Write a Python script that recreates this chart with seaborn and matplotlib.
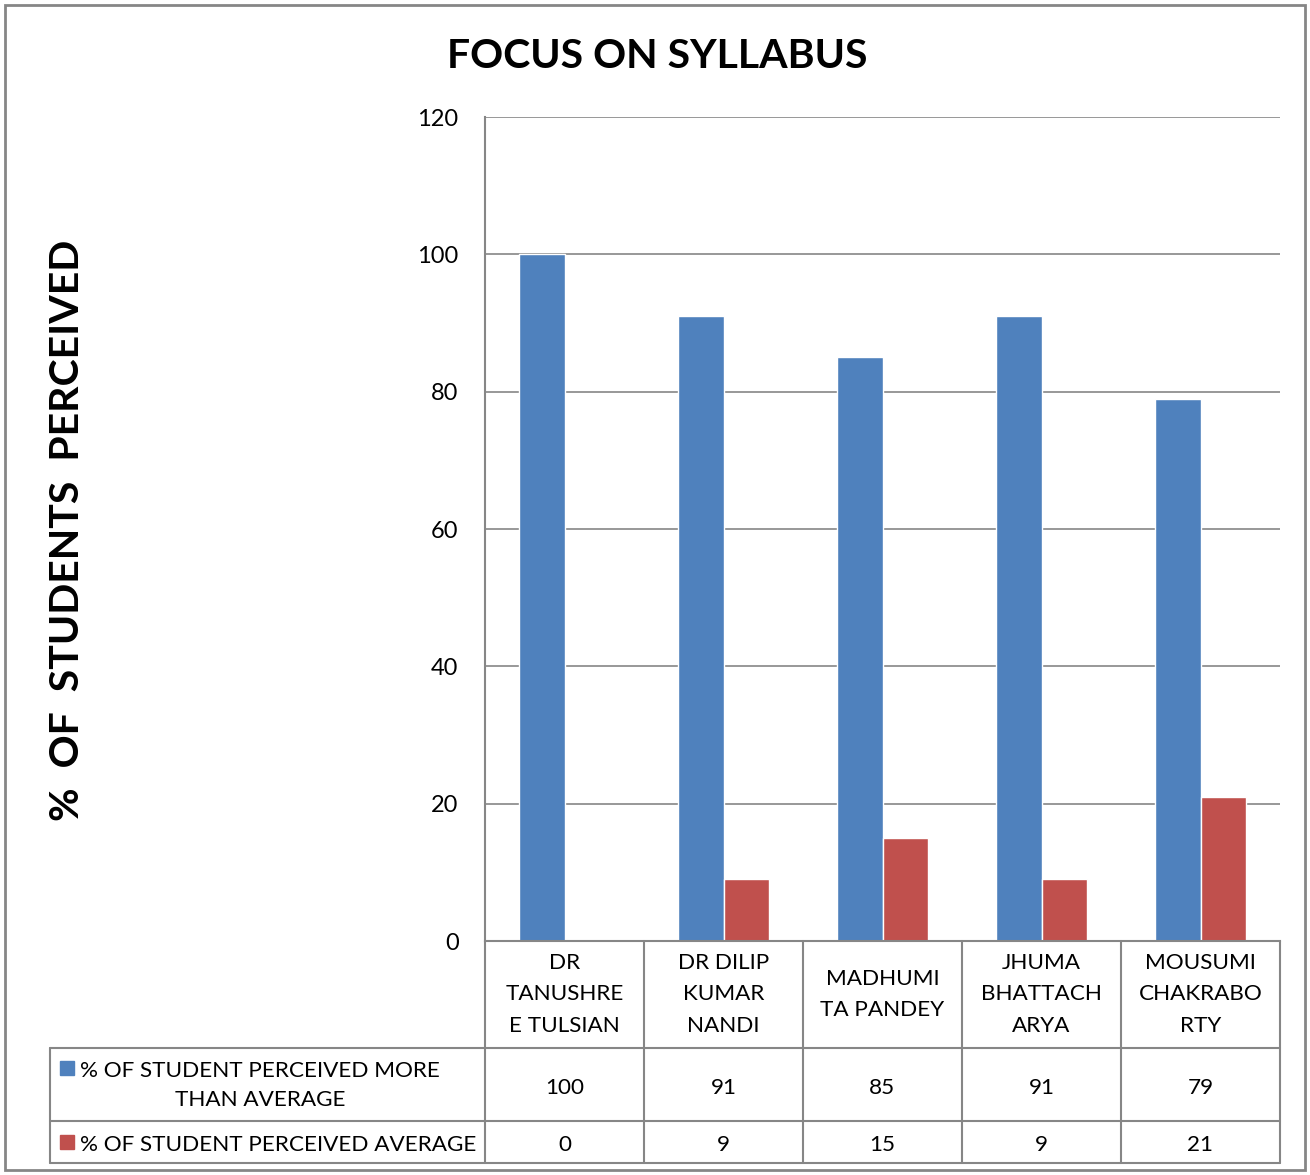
import pandas as pd
import seaborn as sns
import matplotlib.pyplot as plt
from matplotlib.patches import Rectangle

teachers = ["DR\nTANUSHRE\nE TULSIAN", "DR DILIP\nKUMAR\nNANDI", "MADHUMI\nTA PANDEY",
            "JHUMA\nBHATTACH\nARYA", "MOUSUMI\nCHAKRABO\nRTY"]
more_than_avg = [100, 91, 85, 91, 79]
average = [0, 9, 15, 9, 21]
series_names = ["% OF STUDENT PERCEIVED MORE\nTHAN AVERAGE", "% OF STUDENT PERCEIVED AVERAGE"]
colors = ["#4F81BD", "#C0504D"]

df = pd.DataFrame({
    "teacher": teachers * 2,
    "value": more_than_avg + average,
    "series": [series_names[0]] * len(teachers) + [series_names[1]] * len(teachers),
})

sns.set_theme(style="white")
plt.rcParams['font.family'] = ['Lato', 'DejaVu Sans']
plt.rcParams['text.color'] = 'black'
plt.rcParams['ytick.color'] = 'black'
grey = "#868686"

fig = plt.figure(figsize=(13.1, 11.75), dpi=100)
ax = fig.add_axes([485 / 1310, 1 - 941 / 1175, 795 / 1310, 824 / 1175])

sns.barplot(data=df, x="teacher", y="value", hue="series", palette=colors,
            width=0.57, saturation=1, ax=ax, legend=False)

ax.set_ylim(0, 120)
ax.set_xlim(-0.5, len(teachers) - 0.5)
ax.set_yticks(range(0, 121, 20))
ax.yaxis.grid(True, color=grey, linewidth=1.2)
ax.set_axisbelow(True)
ax.tick_params(axis='y', length=0, pad=19, labelsize=17, labelcolor='black')
ax.set_xticks([])
ax.set_xlabel("")
ax.set_ylabel("")
for side in ["top", "right"]:
    ax.spines[side].set_visible(False)
for side in ["left", "bottom"]:
    ax.spines[side].set_color(grey)
    ax.spines[side].set_linewidth(1.5)

# data table under the chart
tr = ax.get_xaxis_transform()
px = 159.0
left_x = (50 - 485) / px - 0.5
y_head = -(1048 - 941) / 824
y_r1 = -(1121 - 941) / 824
y_r2 = -(1163 - 941) / 824
nudge = -3 / 824
lk = dict(color=grey, linewidth=1.5, transform=tr, clip_on=False)

for i in range(len(teachers) + 1):
    ax.plot([i - 0.5, i - 0.5], [0, y_r2], **lk)
ax.plot([left_x, left_x], [y_head, y_r2], **lk)
for yy in [y_head, y_r1, y_r2]:
    ax.plot([left_x, len(teachers) - 0.5], [yy, yy], **lk)

fs = 16.2
for i, name in enumerate(teachers):
    ax.text(i, y_head / 2, name, transform=tr, ha='center', va='center',
            fontsize=fs, linespacing=1.7, clip_on=False)
    ax.text(i, (y_head + y_r1) / 2 + nudge, str(more_than_avg[i]), transform=tr,
            ha='center', va='center', fontsize=fs, clip_on=False)
    ax.text(i, (y_r1 + y_r2) / 2 + nudge, str(average[i]), transform=tr,
            ha='center', va='center', fontsize=fs, clip_on=False)

mark_x = (67 - 485) / px - 0.5
text_x = (80 - 485) / px - 0.5
rows_y = [(y_head + y_r1) / 2 - 1 / 824, (y_r1 + y_r2) / 2 + nudge]
mark_y = [-(1068 - 941) / 824, (y_r1 + y_r2) / 2]
for name, col, ty, my in zip(series_names, colors, rows_y, mark_y):
    ax.plot([mark_x], [my], marker='s', markersize=10, color=col,
            transform=tr, clip_on=False)
    ax.text(text_x, ty, name, transform=tr, ha='left', va='center',
            multialignment='center', fontsize=fs, linespacing=1.55, clip_on=False)

fig.text(0.5015, 1 - 57 / 1175, "FOCUS ON SYLLABUS", ha='center', va='center',
         fontsize=29.5, fontweight='bold', color='black')
fig.text(68 / 1310, 1 - 530 / 1175, "%  OF  STUDENTS  PERCEIVED", ha='center', va='center',
         rotation=90, fontsize=29.5, fontweight='bold', color='black')

fig.patches.append(Rectangle((5 / 1310, 5 / 1175), 1300 / 1310, 1165 / 1175,
                             transform=fig.transFigure, fill=False,
                             edgecolor=grey, linewidth=2))

fig.savefig("out.png", dpi=100)
